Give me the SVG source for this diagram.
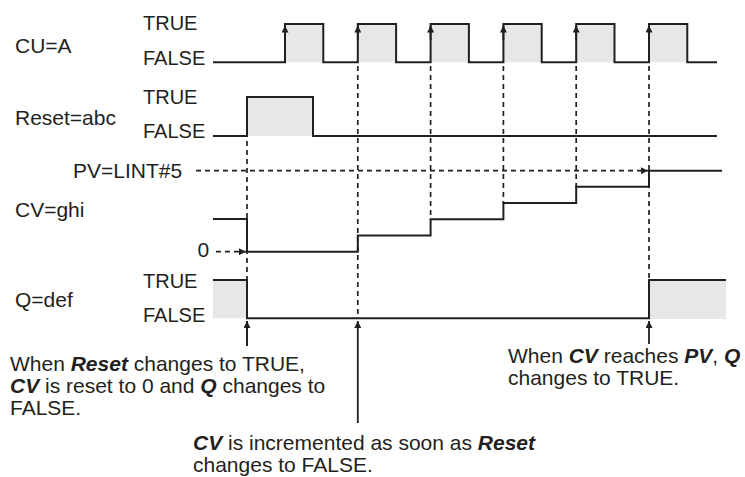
<svg xmlns="http://www.w3.org/2000/svg" width="745" height="477" viewBox="0 0 745 477">
<defs>
<marker id="ah" viewBox="0 0 10 10" refX="10" refY="5" markerWidth="9" markerHeight="7" orient="auto" markerUnits="userSpaceOnUse"><path d="M0,0 L10,5 L0,10 z" fill="#231f20"/></marker>
<style>
.sig{fill:none;stroke:#231f20;stroke-width:2;stroke-linejoin:miter}
.fill{fill:#e6e7e8;stroke:none}
.dash{fill:none;stroke:#231f20;stroke-width:1.7;stroke-dasharray:5 4}
.arr{fill:none;stroke:#231f20;stroke-width:1.8}
text{font-family:"Liberation Sans",Arial,sans-serif;fill:#231f20}
.lbl{font-size:21px}
.lvl{font-size:20px}
.note{font-size:21px}
.bi{font-weight:bold;font-style:italic}
</style>
</defs>
<rect width="745" height="477" fill="#fff"/>

<g id="cu">
<rect class="fill" x="285" y="24" width="38.3" height="38.3"/>
<rect class="fill" x="357.8" y="24" width="38.3" height="38.3"/>
<rect class="fill" x="430.6" y="24" width="38.3" height="38.3"/>
<rect class="fill" x="503.4" y="24" width="38.3" height="38.3"/>
<rect class="fill" x="576.2" y="24" width="38.3" height="38.3"/>
<rect class="fill" x="649" y="24" width="38.3" height="38.3"/>
<path class="sig" d="M213,62.3 H285 V24 H323.3 V62.3 H357.8 V24 H396.1 V62.3 H430.6 V24 H468.9 V62.3 H503.4 V24 H541.7 V62.3 H576.2 V24 H614.5 V62.3 H649 V24 H687.3 V62.3 H717"/>
<text class="lbl" x="15" y="53">CU=A</text>
<text class="lvl" x="143" y="29.5">TRUE</text>
<text class="lvl" x="143" y="64.5">FALSE</text>
</g>

<g id="reset">
<rect class="fill" x="247" y="97" width="66" height="39"/>
<path class="sig" d="M213,136 H247 V97 H313 V136 H717"/>
<text class="lbl" x="15" y="125">Reset=abc</text>
<text class="lvl" x="143" y="103.5">TRUE</text>
<text class="lvl" x="143" y="138">FALSE</text>
</g>

<g id="pv">
<text class="lbl" x="73" y="178">PV=LINT#5</text>
</g>

<g id="cv">
<path class="sig" d="M213,219 H247 V251.7 H357.8 V235.5 H430.6 V219.2 H503.4 V203 H576.2 V186.8 H649 V170.7 H722"/>
<text class="lbl" x="15" y="217">CV=ghi</text>
<text class="lbl" x="197.5" y="257">0</text>
</g>

<g id="q">
<rect class="fill" x="213" y="280" width="34" height="38.3"/>
<rect class="fill" x="649" y="280" width="77" height="39"/>
<path class="sig" d="M213,280 H247 V318.3 H649 V280 H726"/>
<text class="lbl" x="15" y="307">Q=def</text>
<text class="lvl" x="143" y="287.5">TRUE</text>
<text class="lvl" x="143" y="322">FALSE</text>
</g>

<g id="connectors">
<line class="dash" x1="247" y1="141" x2="247" y2="280"/>
<line class="dash" x1="357.8" y1="66" x2="357.8" y2="318"/>
<line class="dash" x1="430.6" y1="66" x2="430.6" y2="220"/>
<line class="dash" x1="503.4" y1="66" x2="503.4" y2="204"/>
<line class="dash" x1="576.2" y1="66" x2="576.2" y2="188"/>
<line class="dash" x1="649" y1="66" x2="649" y2="280"/>
<line class="dash" x1="196" y1="170.7" x2="648" y2="170.7" marker-end="url(#ah)"/>
<line class="dash" x1="216" y1="251.7" x2="246" y2="251.7" marker-end="url(#ah)"/>
<line class="arr" x1="285" y1="40" x2="285" y2="25.5" marker-end="url(#ah)"/>
<line class="arr" x1="357.8" y1="40" x2="357.8" y2="25.5" marker-end="url(#ah)"/>
<line class="arr" x1="430.6" y1="40" x2="430.6" y2="25.5" marker-end="url(#ah)"/>
<line class="arr" x1="503.4" y1="40" x2="503.4" y2="25.5" marker-end="url(#ah)"/>
<line class="arr" x1="576.2" y1="40" x2="576.2" y2="25.5" marker-end="url(#ah)"/>
<line class="arr" x1="649" y1="40" x2="649" y2="25.5" marker-end="url(#ah)"/>
<line class="arr" x1="247" y1="346" x2="247" y2="321"/>
<line class="arr" x1="357.8" y1="423" x2="357.8" y2="321" marker-end="url(#ah)"/>
<line class="arr" x1="649" y1="344" x2="649" y2="321" marker-end="url(#ah)"/>
<line class="arr" x1="247" y1="346" x2="247" y2="321" marker-end="url(#ah)"/>
</g>

<g id="note-reset">
<text class="note" x="10" y="371">When <tspan class="bi">Reset</tspan> changes to TRUE,</text>
<text class="note" x="10" y="393"><tspan class="bi">CV</tspan> is reset to 0 and <tspan class="bi">Q</tspan> changes to</text>
<text class="note" x="10" y="415">FALSE.</text>
</g>
<g id="note-inc">
<text class="note" x="193" y="450"><tspan class="bi">CV</tspan> is incremented as soon as <tspan class="bi">Reset</tspan></text>
<text class="note" x="193" y="472">changes to FALSE.</text>
</g>
<g id="note-pv">
<text class="note" x="508" y="363">When <tspan class="bi">CV</tspan> reaches <tspan class="bi">PV</tspan>, <tspan class="bi">Q</tspan></text>
<text class="note" x="508" y="385">changes to TRUE.</text>
</g>
</svg>
